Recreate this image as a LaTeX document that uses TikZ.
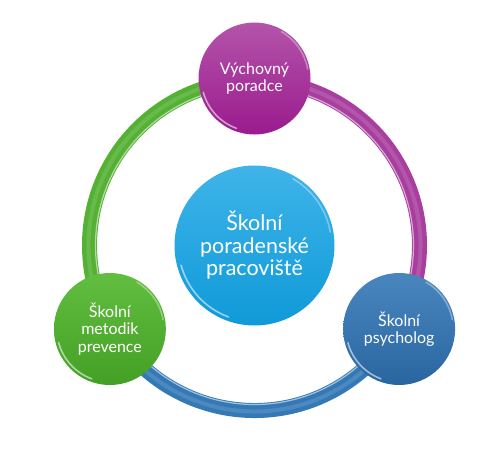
\documentclass[tikz,border=0pt]{standalone}
\usepackage{fontspec}
\setmainfont{Lato}
\usetikzlibrary{calc}
\definecolor{purpT}{HTML}{B454AA}
\definecolor{purpB}{HTML}{9A1B8E}
\definecolor{purpR}{HTML}{A83F9F}
\definecolor{greenT}{HTML}{62BE40}
\definecolor{greenB}{HTML}{44A024}
\definecolor{greenR}{HTML}{55B134}
\definecolor{blueT}{HTML}{4A86BE}
\definecolor{blueB}{HTML}{29659F}
\definecolor{blueR}{HTML}{3479B6}
\definecolor{cyanT}{HTML}{3FB4E9}
\definecolor{cyanB}{HTML}{0F9AD8}
\tikzset{
  ball/.style={circle, inner sep=0pt, minimum size=112pt, align=center,
    text=white, font=\fontsize{16}{17.5}\selectfont},
  bigball/.style={ball, minimum size=160pt, font=\fontsize{21.5}{22.5}\selectfont},
  ringarc/.style={line width=15pt},
  ringhi/.style={line width=1.2pt, white, opacity=0.55},
  ringband/.style={line width=4pt, white, opacity=0.12},
  rim/.style={line width=1.6pt, white, opacity=0.55, line cap=round},
}
\begin{document}
\begin{tikzpicture}[x=1pt,y=1pt]
\useasboundingbox (0,0) rectangle (503,459);
\coordinate (ring) at (254.5,213.5);
\def\R{165}
% ring arcs
\draw[ringarc, purpR] ($(ring)+(90:\R)$) arc[start angle=90, end angle=-30, radius=\R];
\draw[ringarc, greenR] ($(ring)+(90:\R)$) arc[start angle=90, end angle=210, radius=\R];
\draw[ringarc, blueR] ($(ring)+(210:\R)$) arc[start angle=210, end angle=330, radius=\R];
\draw[ringhi] ($(ring)+(90:\R-6)$) arc[start angle=90, end angle=-30, radius=\R-6];
\draw[ringhi] ($(ring)+(90:\R-6)$) arc[start angle=90, end angle=210, radius=\R-6];
\draw[ringhi] ($(ring)+(210:\R-6)$) arc[start angle=210, end angle=330, radius=\R-6];
\draw[ringband] ($(ring)+(210:\R+1)$) arc[start angle=210, end angle=570, radius=\R+1];
% nodes
\node[ball, top color=purpT, bottom color=purpB] (vp) at ($(ring)+(90:167)$) {Výchovný\\poradce};
\node[ball, top color=greenT, bottom color=greenB] (mp) at ($(ring)+(210:167)$) {Školní\\metodik\\prevence};
\node[ball, top color=blueT, bottom color=blueB] (ps) at ($(ring)+(-30:167)$) {Školní\\psycholog};
\node[bigball, top color=cyanT, bottom color=cyanB] (ce) at (ring) {Školní\\poradenské\\pracoviště};
% glossy rims
\foreach \n in {vp,mp,ps}{
  \draw[rim] ($(\n.center)+(195:53)$) arc[start angle=195, end angle=250, radius=53];
  \draw[rim, opacity=0.35] ($(\n.center)+(10:54)$) arc[start angle=10, end angle=60, radius=54];
}
\draw[rim] ($(ce.center)+(195:76)$) arc[start angle=195, end angle=250, radius=76];
\draw[rim, opacity=0.35] ($(ce.center)+(10:77)$) arc[start angle=10, end angle=60, radius=77];
\end{tikzpicture}
\end{document}
